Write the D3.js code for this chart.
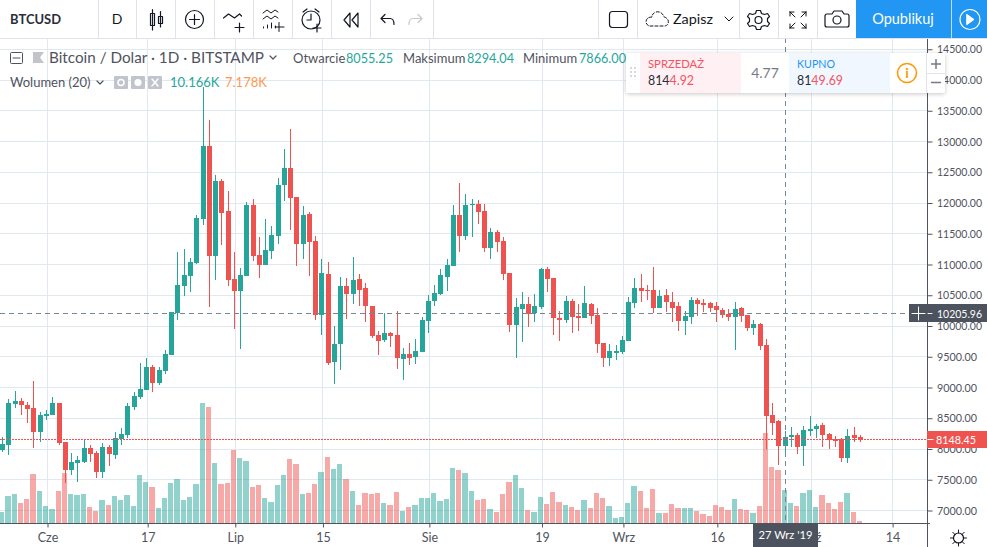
<!DOCTYPE html>
<html><head><meta charset="utf-8">
<style>
html,body{margin:0;padding:0;background:#fff;overflow:hidden}
svg{display:block;font-family:"Open Sans","Noto Sans",sans-serif}
</style></head><body><div id="c"></div>
<script src="https://cdn.jsdelivr.net/npm/d3@7"></script>
<script>
// first candle is index -7 (25 May 2019), index 0 = 1 Jun 2019
const firstIndex = -7;
const opens = [7984,8065,8732,8781,8716,8667,8277,8537,8553,8748,8114,7659,7772,7789,8016,7935,7626,8033,7903,8163,8228,8683,8846,8959,9333,9073,9268,9528,10211,10650,10812,11024,11740,12927,11138,12358,11870,10764,10569,10812,11967,11154,10991,11219,11463,12293,12569,12097,11333,11821,11382,10179,10845,9415,9707,10650,10520,10764,10617,10325,9854,9772,9886,9854,9463,9545,9496,9577,10081,10406,10520,10796,10975,11805,11463,11967,11984,11870,11268,11528,11382,10861,10016,10276,10358,10211,10309,10926,10780,10130,10098,10406,10163,10130,10358,10179,9724,9480,9561,9577,9756,10374,10617,10585,10585,10293,10504,10390,10325,10081,10146,10423,10374,10374,10325,10260,10195,10146,10293,10179,9967,10033,9691,8553,8455,8055,8195,8228,8049,8293,8325,8390,8244,8163,8163,7854,8228,8195];
const highs = [8195,8813,8943,8829,8764,9106,8602,8634,8846,8748,8114,7935,7886,8147,8065,7968,8098,8065,8277,8342,8748,8927,9398,9480,9366,9333,9610,10228,11203,11252,11105,11805,13886,13350,12455,12390,12195,11203,10943,12016,12065,11447,11740,11626,12406,12878,13204,12097,11951,11854,11463,11089,11040,10000,10796,10780,11122,10845,10699,10325,9919,10211,9902,10244,9642,9724,9789,10146,10504,10666,10926,11089,11967,12325,12146,12065,12049,11984,11593,11561,11447,10861,10455,10552,10471,10520,10943,10959,10780,10244,10487,10439,10358,10650,10374,10293,9724,9707,9691,9837,10471,10780,10845,10666,10959,10585,10601,10552,10390,10244,10471,10455,10439,10390,10390,10293,10276,10390,10309,10179,10098,10049,9789,8748,8472,8294,8358,8260,8374,8537,8407,8423,8260,8212,8179,8325,8358,8228];
const lows = [7951,7903,8667,8553,8423,8016,8114,8472,8553,8065,7447,7577,7463,7772,7789,7528,7528,7724,7838,8065,8179,8634,8813,8959,8927,9041,9219,9528,10098,10487,10552,11008,11642,10309,10747,11317,10650,9951,9626,10812,11056,10780,10991,11089,11333,12032,11561,10975,11089,10812,10098,9854,9366,9057,9285,10114,10358,10325,10065,9805,9528,9740,9659,9301,9122,9366,9382,9577,9886,10325,10504,10569,10975,11203,11398,11447,11658,11203,11089,11203,10747,9902,9480,9740,9984,10065,10276,10552,9854,9756,10049,9886,9919,10130,10033,9561,9333,9350,9447,9545,9756,10293,10390,10423,10211,10293,10228,10065,9919,9854,10033,10163,10228,10228,10065,10130,10081,9610,10065,9919,9854,9610,8000,8228,7740,7866,8033,7919,7724,8212,8179,8033,8000,8033,7789,7772,8114,8114];
const closes = [8081,8748,8781,8716,8650,8277,8553,8569,8748,8098,7659,7789,7821,8016,7919,7626,8033,7919,8179,8244,8699,8862,8976,9333,9073,9285,9545,10228,10666,10829,11040,11756,12927,11138,12358,11837,10747,10569,10829,11967,11138,10991,11235,11479,12293,12569,12081,11333,11805,11366,10179,10861,9398,9707,10650,10520,10747,10585,10325,9837,9756,9886,9837,9480,9545,9480,9593,10098,10406,10536,10829,10991,11805,11463,11967,11984,11854,11268,11528,11366,10845,10016,10309,10358,10195,10325,10926,10764,10130,10098,10406,10146,10130,10374,10163,9707,9480,9593,9593,9772,10390,10617,10569,10569,10293,10487,10390,10293,10081,10163,10423,10358,10341,10293,10260,10179,10146,10276,10163,9967,10033,9675,8537,8423,8049,8195,8228,8033,8309,8325,8374,8228,8147,8130,7854,8212,8179,8148];
const volumesK = [3.4,8.3,8.9,6.2,7.4,15.1,9.9,5.2,4.3,9.9,15.4,8.9,8.6,8.9,4.9,3.7,7.1,5.5,8.3,7.1,8.6,5.2,14.8,12.6,11.1,4.6,7.7,12.3,13.6,7.1,8.0,12.0,37.0,35.7,18.5,12.0,12.3,22.5,20.0,19.1,11.1,11.7,7.7,6.5,11.7,14.8,19.7,18.2,8.9,9.2,12.0,15.7,20.3,16.6,18.2,13.6,9.9,5.5,9.2,8.9,9.2,6.2,5.5,9.5,3.7,4.9,5.5,7.7,7.7,9.2,6.8,7.4,16.9,16.3,15.4,9.9,7.1,7.4,4.3,3.4,8.9,12.6,14.8,10.8,4.0,3.4,8.0,5.9,9.5,6.5,5.5,4.9,4.0,7.1,4.6,9.2,7.7,5.2,1.5,1.8,6.2,11.4,9.9,4.6,10.5,3.1,3.1,5.9,4.6,4.6,4.6,3.7,2.8,2.2,5.5,4.9,4.0,7.4,4.3,4.0,3.1,5.2,27.7,17.2,16.3,10.166,6.2,5.2,9.2,10.2,4.9,8.6,6.2,4.3,6.5,9.2,3.4,0.6];
const priceTicks = [7000,7500,8000,8500,9000,9500,10000,10500,11000,11500,12000,12500,13000,13500,14000,14500];
const timeTickIndex = [0,16,30,44,61,79,92,107,122,135];
const timeTickLabels = ["Cze","17","Lip","15","Sie","19","Wrz","16","Paź","14"];
const crossIndex = 118, crossPrice = 10205.96, lastPrice = 8148.45;

const W=987,H=547, axisX=927, axisY=523, topY=38;
const c={green:"#26a69a",red:"#ef5350",greenV:"rgba(38,166,154,.5)",redV:"rgba(239,83,80,.5)",grid:"#e0e9f0",line:"#e0e3eb",text:"#50535e",axis:"#50535e",dark:"#4c525e",cross:"#758696",icon:"#131722"};

const x=d3.scaleLinear().domain([0,100]).range([46.5,672.5]);
const y=d3.scaleLinear().domain([7000,14500]).range([510.5,49.25]);
const yV=d3.scaleLinear().domain([0,37]).range([axisY,axisY-120.1]);

const svg=d3.select("#c").append("svg").attr("width",W).attr("height",H);
const gridG=svg.append("g");
// grid
gridG.selectAll(".h").data(priceTicks).join("line").attr("x1",0).attr("x2",axisX)
  .attr("y1",d=>Math.floor(y(d))+.5).attr("y2",d=>Math.floor(y(d))+.5).attr("stroke",c.grid);
gridG.selectAll(".v").data(timeTickIndex).join("line").attr("y1",topY).attr("y2",axisY)
  .attr("x1",d=>Math.floor(x(d))+1.5).attr("x2",d=>Math.floor(x(d))+1.5).attr("stroke",c.grid);

const idx=opens.map((_,i)=>i+firstIndex);
const col=i=>Math.floor(x(i));
// volume
svg.append("g").selectAll("rect").data(idx).join("rect")
  .attr("x",i=>col(i)-3).attr("width",i=>col(i+1)-col(i)-1)
  .attr("y",i=>Math.round(yV(volumesK[i-firstIndex]))).attr("height",i=>axisY-Math.round(yV(volumesK[i-firstIndex])))
  .attr("fill",i=>closes[i-firstIndex]>=opens[i-firstIndex]?c.greenV:c.redV);
// candles
const colr=i=>closes[i-firstIndex]>=opens[i-firstIndex]?c.green:c.red;
const cg=svg.append("g");
cg.selectAll(".w").data(idx).join("rect").attr("x",col).attr("width",1)
  .attr("y",i=>Math.round(y(highs[i-firstIndex]))).attr("height",i=>Math.max(1,Math.round(y(lows[i-firstIndex]))-Math.round(y(highs[i-firstIndex]))))
  .attr("fill",colr);
cg.selectAll(".b").data(idx).join("rect").attr("x",i=>col(i)-2).attr("width",5)
  .attr("y",i=>Math.round(y(Math.max(opens[i-firstIndex],closes[i-firstIndex]))))
  .attr("height",i=>Math.max(1,Math.round(y(Math.min(opens[i-firstIndex],closes[i-firstIndex])))-Math.round(y(Math.max(opens[i-firstIndex],closes[i-firstIndex])))))
  .attr("fill",colr);

// price line + crosshair
const pl=Math.floor(y(lastPrice))+.5, chY=Math.floor(y(crossPrice))+.5, chX=col(crossIndex)+.5;
svg.append("line").attr("x1",0).attr("x2",axisX).attr("y1",pl).attr("y2",pl).attr("stroke",c.red).attr("stroke-dasharray","2 1");
svg.append("line").attr("x1",0).attr("x2",axisX).attr("y1",chY).attr("y2",chY).attr("stroke",c.cross).attr("stroke-dasharray","5 4");
svg.append("line").attr("x1",chX).attr("x2",chX).attr("y1",topY).attr("y2",axisY).attr("stroke",c.cross).attr("stroke-dasharray","5 4");

// axes
const axisFont="Lato, 'Open Sans', sans-serif";
const yAxis=d3.axisRight(y).tickValues(priceTicks).tickFormat(d3.format(".2f")).tickSize(5).tickPadding(4.5);
const gy=svg.append("g").attr("transform",`translate(${axisX+.5},0)`).call(yAxis);
gy.select(".domain").attr("d",`M0,${topY}V${H}`).attr("stroke",c.axis);
gy.selectAll("line").attr("stroke",c.axis);
gy.selectAll("text").attr("fill",c.text).attr("font-size",11.5).attr("font-family",axisFont)
  .attr("textLength",d=>d>=10000?45:40).attr("lengthAdjust","spacingAndGlyphs");
const xAxis=d3.axisBottom(x).tickValues(timeTickIndex).tickFormat((d,i)=>timeTickLabels[i]).tickSize(4).tickPadding(6);
const gx=svg.append("g").attr("transform",`translate(1,${axisY+.5})`).call(xAxis);
gx.select(".domain").attr("d",`M-1,0H${axisX+2}`).attr("stroke",c.axis);
gx.selectAll("line").attr("stroke",c.axis);
gx.selectAll("text").attr("fill",c.text).attr("font-size",12.5).attr("font-family",axisFont);

// white backdrop of toolbar
svg.append("rect").attr("width",W).attr("height",topY).attr("fill","#fff");
svg.append("line").attr("x1",0).attr("x2",W).attr("y1",38.5).attr("y2",38.5).attr("stroke",c.line);
function T(s,px,py,o={}){const t=svg.append("text").attr("x",px).attr("y",py).text(s)
  .attr("fill",o.fill||c.text).attr("font-size",o.size||13).attr("font-family",o.font||axisFont)
  .attr("font-weight",o.weight||400).attr("text-anchor",o.anchor||"start");
  if(o.len)t.attr("textLength",o.len).attr("lengthAdjust","spacingAndGlyphs");return t;}
[98,136,175,214,253,292,331,370,433,598,637,739,778,817].forEach(v=>svg.append("line").attr("x1",v+.5).attr("x2",v+.5).attr("y1",0).attr("y2",38).attr("stroke",c.line));
T("BTCUSD",10,24,{size:14,weight:700,fill:"#2a2e39",len:51});
T("D",117,24,{size:14,anchor:"middle",fill:c.icon});
function P(d,o={}){return svg.append("path").attr("d",d).attr("fill",o.fill||"none").attr("stroke",o.stroke===undefined?c.icon:o.stroke).attr("stroke-width",o.sw||1).attr("stroke-linejoin","round").attr("stroke-linecap","round");}
// candle icon
P("M152.5 9.5V30M150.5 13.5h4v12h-4zM160.5 11.5V27M158.5 16.5h4v7h-4z",{sw:1.2});
// plus circle
svg.append("circle").attr("cx",194.5).attr("cy",19.5).attr("r",9).attr("fill","none").attr("stroke",c.icon).attr("stroke-width",1.2);
P("M194.5 14.5v10M189.5 19.5h10",{sw:1.2});
// indicators
P("M223.5 18l5-4 6 4 5-4 2 2M239.5 23v9M235 27.5h9",{sw:1.2});
P("M263 13l4-3 4 3 4-3 3 2M263 19l4-3 4 3 4-3 3 2M263.5 28v-1M267.5 28v-3M271.5 28v-5M275.5 28v-2M279 22.5v9M275 27h9",{sw:1});
// alarm
svg.append("circle").attr("cx",311).attr("cy",20).attr("r",9).attr("fill","none").attr("stroke",c.icon).attr("stroke-width",1.2);
P("M303 12l4-3M315 9l4 3M311 14v6h-4M317 24v8M313 28h8",{sw:1.2});
// replay
P("M350 13l-6 7 6 7zM358 13l-6 7 6 7z",{sw:1.2});
// undo/redo
P("M381 18.5h9c3 0 4 2.5 4 6M381 18.5l4-4M381 18.5l4 4",{sw:1.2});
P("M422 18.5h-9c-3 0-4 2.5-4 6M422 18.5l-4-4M422 18.5l-4 4",{sw:1.2,stroke:"#c5c8d0"});
// rect
svg.append("rect").attr("x",609.5).attr("y",11.5).attr("width",18).attr("height",16).attr("rx",3).attr("fill","none").attr("stroke",c.icon).attr("stroke-width",1.2);
// cloud
P("M650 26h14c4 0 5-3 4-6-1-2-3-3-4-3-1-4-5-6-8-5-3 1-4 3-4 5-4 0-6 2-6 5 0 2 2 4 4 4z",{sw:1}).attr("stroke-dasharray","3 2");
T("Zapisz",673,24,{size:14,fill:c.icon,len:40});
P("M725 17l4 4 4-4",{sw:1});
// gear toolbar
P("M756.5 10.5h4l1 3 3 1 3-1 2 3-2 2v3l2 2-2 3-3-1-3 1-1 3h-4l-1-3-3-1-3 1-2-3 2-2v-3l-2-2 2-3 3 1 3-1z",{sw:1.2});
svg.append("circle").attr("cx",758.5).attr("cy",20).attr("r",3.5).attr("fill","none").attr("stroke",c.icon).attr("stroke-width",1.2);
// fullscreen
P("M790 12l5 5M790 12h4M790 12v4M806 12l-5 5M806 12h-4M806 12v4M790 28l5-5M790 28h4M790 28v-4M806 28l-5-5M806 28h-4M806 28v-4",{sw:1});
// camera
P("M827 14h5l2-3h8l2 3h3c1 0 2 1 2 2v9c0 1-1 2-2 2h-20c-1 0-2-1-2-2v-9c0-1 1-2 2-2z",{sw:1.2});
svg.append("circle").attr("cx",837).attr("cy",20).attr("r",4).attr("fill","none").attr("stroke",c.icon).attr("stroke-width",1.2);
// publish
svg.append("rect").attr("x",856).attr("width",131).attr("height",38).attr("fill","#2196f3");
svg.append("line").attr("x1",951.5).attr("x2",951.5).attr("y1",0).attr("y2",38).attr("stroke","#fff").attr("stroke-opacity",.7);
T("Opublikuj",903,24,{size:14.5,fill:"#fff",anchor:"middle"});
svg.append("circle").attr("cx",970).attr("cy",19.5).attr("r",10).attr("fill","none").attr("stroke","#fff").attr("stroke-width",1.2);
P("M967 14.5l7 5-7 5z",{fill:"#fff",stroke:"#fff"});

// legend
svg.append("rect").attr("x",10.5).attr("y",52.5).attr("width",12).attr("height",11).attr("rx",1).attr("fill","none").attr("stroke",c.text);
P("M13 58h7",{stroke:c.text});
P("M33 52h11l-4 5.5 4 5.5h-11z",{fill:"#c1c4cc",stroke:"none"});
T("Bitcoin / Dolar · 1D · BITSTAMP",49,63,{size:15,len:215});
P("M270 56l3 3 3-3",{stroke:c.text,sw:1.2});
T("Otwarcie",293,63,{size:13});T("8055.25",346,63,{size:13,fill:c.green,len:47});
T("Maksimum",403,63,{size:13});T("8294.04",467,63,{size:13,fill:c.green,len:47});
T("Minimum",523,63,{size:13});T("7866.00",579,63,{size:13,fill:c.green,len:47});
T("Wolumen (20)",10,87,{size:13});
P("M97 81l3 3 3-3",{stroke:c.text,sw:1.2});
[114,131,148].forEach(v=>svg.append("rect").attr("x",v).attr("y",76).attr("width",14).attr("height",13).attr("rx",1).attr("fill","#c1c4cc"));
svg.append("circle").attr("cx",121).attr("cy",82.5).attr("r",3).attr("fill","none").attr("stroke","#fff").attr("stroke-width",1.5);
svg.append("circle").attr("cx",138).attr("cy",82.5).attr("r",3.5).attr("fill","#fff");
P("M152 79l6 7M158 79l-6 7",{stroke:"#fff",sw:1.5});
T("10.166K",170,87,{size:13,fill:c.green});
T("7.178K",225,87,{size:13,fill:"#ff9850"});

// price labels
svg.append("rect").attr("x",927).attr("y",431).attr("width",60).attr("height",17).attr("fill",c.red);
P("M928 439.5h5",{stroke:"#fff"});
T("8148.45",936,444,{size:11.5,fill:"#fff",len:40});
svg.append("rect").attr("x",909).attr("y",304).attr("width",78).attr("height",18).attr("fill",c.dark);
P("M912 313.5h13M918.5 307v13",{stroke:"#fff",sw:1});
P("M928 313.5h4",{stroke:"#fff"});
T("10205.96",937,317.5,{size:11.5,fill:"#fff",len:45});
// time label
svg.append("rect").attr("x",753).attr("y",524).attr("width",65).attr("height",23).attr("fill",c.dark);
T("27 Wrz '19",785.5,539,{size:12,fill:"#fff",anchor:"middle",len:54});
// settings sun icon bottom
svg.append("circle").attr("cx",958.5).attr("cy",538).attr("r",5).attr("fill","none").attr("stroke",c.icon).attr("stroke-width",1.2);
P("M958.5 530v3M958.5 543v3M950.5 538h3M963.5 538h3M952.8 532.3l2.1 2.1M962.1 541.6l2.1 2.1M964.2 532.3l-2.1 2.1M954.9 541.6l-2.1 2.1",{sw:1});

// trade panel
const defs=svg.append("defs");
const f=defs.append("filter").attr("id","sh").attr("x","-5%").attr("y","-20%").attr("width","110%").attr("height","150%");
f.append("feDropShadow").attr("dx",0).attr("dy",1).attr("stdDeviation",2).attr("flood-color","#000").attr("flood-opacity",.22);
svg.append("rect").attr("x",626).attr("y",53).attr("width",319).attr("height",40).attr("rx",2).attr("fill","#fff").attr("filter","url(#sh)");
svg.append("rect").attr("x",640).attr("y",53).attr("width",101).attr("height",40).attr("fill","#fff0f3");
svg.append("rect").attr("x",789).attr("y",53).attr("width",101).attr("height",40).attr("fill","#f0f7ff");
[0,1,2].forEach(r=>[0,1].forEach(k=>svg.append("rect").attr("x",630+k*4).attr("y",67+r*4).attr("width",2).attr("height",2).attr("fill","#d6d8de")));
T("SPRZEDAŻ",648,68,{size:12,fill:"#f7525f",len:56});
const s1=T("",648,85,{size:14,fill:"#2a2e39",len:46});s1.append("tspan").text("814");s1.append("tspan").text("4.92").attr("fill","#f7525f");
T("4.77",765,78,{size:14,anchor:"middle",fill:"#787b86"});
T("KUPNO",797,68,{size:12,fill:"#2196f3",len:38});
const s2=T("",797,85,{size:14,fill:"#2a2e39",len:46});s2.append("tspan").text("81");s2.append("tspan").text("49.69").attr("fill","#f7525f");
svg.append("circle").attr("cx",907).attr("cy",73).attr("r",9.5).attr("fill","#fff").attr("stroke","#ff9800").attr("stroke-width",1.5);
T("i",907,78,{size:14,weight:700,anchor:"middle",fill:"#ff9800"});
svg.append("line").attr("x1",926.5).attr("x2",926.5).attr("y1",53).attr("y2",93).attr("stroke",c.line);
svg.append("line").attr("x1",927).attr("x2",945).attr("y1",73.5).attr("y2",73.5).attr("stroke",c.line);
P("M931.5 64h9M936 59.5v9",{stroke:"#787b86",sw:1.5});
P("M931.5 82.5h9",{stroke:"#787b86",sw:1.5});
</script></body></html>
